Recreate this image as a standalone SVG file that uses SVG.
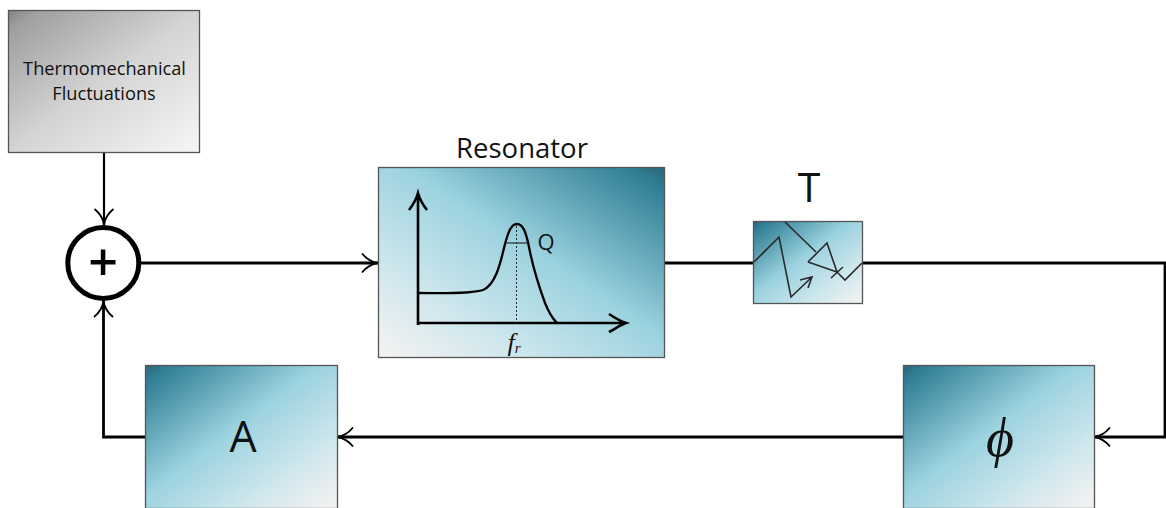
<svg xmlns="http://www.w3.org/2000/svg" width="1166" height="508" viewBox="0 0 1166 508">
<defs>
<linearGradient id="gGray" x1="0" y1="0" x2="1" y2="1"><stop offset="0" stop-color="#858585"/><stop offset="0.08" stop-color="#a0a0a0"/><stop offset="0.5" stop-color="#d4d4d4"/><stop offset="1" stop-color="#f8f6f5"/></linearGradient>
<linearGradient id="gTL" x1="0" y1="0" x2="1" y2="1"><stop offset="0" stop-color="#2f6577"/><stop offset="0.06" stop-color="#2f7e95"/><stop offset="0.45" stop-color="#9bd2df"/><stop offset="0.75" stop-color="#cfe7ed"/><stop offset="1" stop-color="#f6f3f2"/></linearGradient>
<linearGradient id="gTR" x1="1" y1="0" x2="0" y2="1"><stop offset="0" stop-color="#2f6577"/><stop offset="0.06" stop-color="#2f7e95"/><stop offset="0.45" stop-color="#9bd2df"/><stop offset="0.75" stop-color="#cfe7ed"/><stop offset="1" stop-color="#f6f3f2"/></linearGradient>
<marker id="arr" markerUnits="userSpaceOnUse" markerWidth="24" markerHeight="24" refX="20" refY="12" orient="auto"><path d="M4 2.500C8 7.500 13 11 20 12C13 13 8 16.500 4 21.500" fill="none" stroke="#000" stroke-width="1.800"/></marker>
</defs>
<style>
.box{stroke:#555;stroke-width:1.300}
.wire{fill:none;stroke:#000;stroke-width:2.800}
.thin{fill:none;stroke:#2a2a2a;stroke-width:1.600}
.t{font-family:"Open Sans","Noto Sans",sans-serif;fill:#111;text-anchor:middle}
</style>
<g id="connectors">
<path class="wire" style="stroke-width:2.200" d="M104 153V225" marker-end="url(#arr)"/>
<path class="wire" d="M141 263H378" marker-end="url(#arr)"/>
<path class="wire" d="M664 263H754"/>
<path class="wire" d="M862 263H1165V437H1094" marker-end="url(#arr)"/>
<path class="wire" d="M903 437H337" marker-end="url(#arr)"/>
<path class="wire" d="M146 437H103.500V301" marker-end="url(#arr)"/>
</g>
<g id="fluct">
<rect class="box" x="8.500" y="10.500" width="191" height="142" fill="url(#gGray)"/>
<text class="t" x="104.500" y="75" font-size="18.200">Thermomechanical</text>
<text class="t" x="104" y="100" font-size="18.200">Fluctuations</text>
</g>
<g id="sum">
<circle cx="103.300" cy="263" r="35.500" fill="#fff" stroke="#000" stroke-width="5"/>
<text class="t" x="103" y="281" font-size="52" style="fill:#000;font-weight:600">+</text>
</g>
<g id="resonator">
<text class="t" x="522" y="158" font-size="27.500">Resonator</text>
<rect class="box" x="378.500" y="167.500" width="286" height="190" fill="url(#gTR)"/>
<path class="wire" style="stroke-width:2.600" d="M418 325V193M409 210C413 205 416 200 418 193C420 200 423 205 427 210"/>
<path class="wire" style="stroke-width:2.600" d="M417 323H626M609 314C615 318 620 321 626 323C620 325 615 329 609 332"/>
<path class="wire" style="stroke-width:2.300" d="M418 293C445 293 470 294 483 290C495 285 500 265 504 248C508 232 511 224 517 224C523 224 526 232 529 247C533 268 541 292 545 303C549 313 553 319 557 323"/>
<path class="thin" style="stroke-width:1.200" d="M506 243H528"/>
<path class="thin" style="stroke-width:1;stroke-dasharray:2 2" d="M516.500 226V323"/>
<text class="t" x="546" y="250" font-size="22">Q</text>
<text class="t" x="514" y="351" font-size="26" style="font-family:'Liberation Serif',serif;font-style:italic">f<tspan font-size="15" dy="2">r</tspan></text>
</g>
<g id="T">
<text class="t" x="809" y="202" font-size="41">T</text>
<rect class="box" x="753.500" y="221.500" width="109" height="82" fill="url(#gTL)"/>
<path class="thin" d="M754 262L779 237L791 297L812 277M800 280L812 277L808 288"/>
<path class="thin" d="M785 222L816 252M808 262L827 243L837 272L808 262M831 278L843 267M837 272L845 280L862 263"/>
</g>
<g id="A">
<rect class="box" x="145.500" y="365.500" width="192" height="143" fill="url(#gTL)"/>
<text class="t" x="243" y="452" font-size="43">A</text>
</g>
<g id="phi">
<rect class="box" x="903.500" y="365.500" width="191" height="143" fill="url(#gTL)"/>
<text class="t" x="1000" y="456" font-size="54" style="font-family:'Liberation Serif',serif;font-style:italic">ϕ</text>
</g>
</svg>
